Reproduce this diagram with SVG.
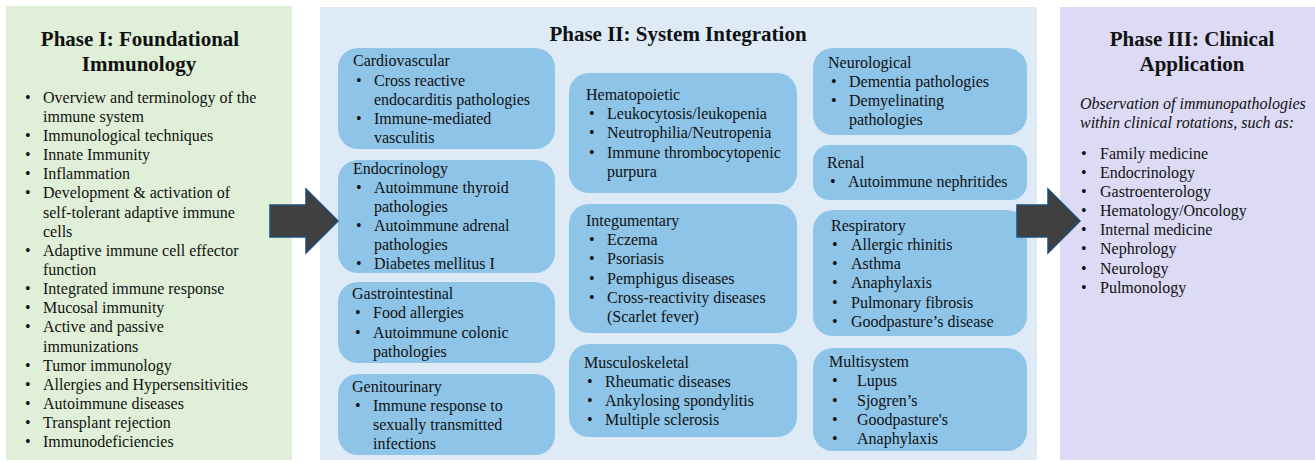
<svg xmlns="http://www.w3.org/2000/svg" width="1315" height="462" viewBox="0 0 1315 462">
<style>
text{font-family:"Liberation Serif","Times New Roman",serif;fill:#111;font-size:16px}
.t{font-weight:bold;font-size:21px;text-anchor:middle}
.i{font-style:italic}
.box{fill:#8ec4e8}
.arrow{fill:#404040;stroke:#1f4e79;stroke-width:1.5}
</style>
<rect x="6" y="6" width="286" height="454" fill="#e0efd8"/>
<rect x="320" y="7" width="717" height="453" fill="#deebf7"/>
<rect x="1060" y="7" width="255" height="453" fill="#dcdaf5"/>

<g id="phase1">
<text class="t" x="140" y="46">Phase I: Foundational</text>
<text class="t" x="139" y="71">Immunology</text>
<g>
<text x="25" y="103">•</text><text x="43" y="103">Overview and terminology of the</text>
<text x="43" y="122">immune system</text>
<text x="25" y="141">•</text><text x="43" y="141">Immunological techniques</text>
<text x="25" y="160">•</text><text x="43" y="160">Innate Immunity</text>
<text x="25" y="179">•</text><text x="43" y="179">Inflammation</text>
<text x="25" y="198">•</text><text x="43" y="198">Development &amp; activation of</text>
<text x="43" y="218">self-tolerant adaptive immune</text>
<text x="43" y="237">cells</text>
<text x="25" y="256">•</text><text x="43" y="256">Adaptive immune cell effector</text>
<text x="43" y="275">function</text>
<text x="25" y="294">•</text><text x="43" y="294">Integrated immune response</text>
<text x="25" y="313">•</text><text x="43" y="313">Mucosal immunity</text>
<text x="25" y="332">•</text><text x="43" y="332">Active and passive</text>
<text x="43" y="352">immunizations</text>
<text x="25" y="371">•</text><text x="43" y="371">Tumor immunology</text>
<text x="25" y="390">•</text><text x="43" y="390">Allergies and Hypersensitivities</text>
<text x="25" y="409">•</text><text x="43" y="409">Autoimmune diseases</text>
<text x="25" y="428">•</text><text x="43" y="428">Transplant rejection</text>
<text x="25" y="447">•</text><text x="43" y="447">Immunodeficiencies</text>
</g>
</g>

<g id="phase2">
<text class="t" x="678" y="41">Phase II: System Integration</text>
</g>

<g id="cardiovascular">
<rect class="box" x="338" y="48" width="217" height="101" rx="20"/>
<text x="353" y="66">Cardiovascular</text>
<text x="356" y="86">•</text><text x="374" y="86">Cross reactive</text>
<text x="374" y="105">endocarditis pathologies</text>
<text x="356" y="124">•</text><text x="374" y="124">Immune-mediated</text>
<text x="374" y="143">vasculitis</text>
</g>
<g id="endocrinology">
<rect class="box" x="338" y="160" width="217" height="113" rx="20"/>
<text x="353" y="174">Endocrinology</text>
<text x="356" y="193">•</text><text x="374" y="193">Autoimmune thyroid</text>
<text x="374" y="212">pathologies</text>
<text x="356" y="231">•</text><text x="374" y="231">Autoimmune adrenal</text>
<text x="374" y="250">pathologies</text>
<text x="356" y="269">•</text><text x="374" y="269">Diabetes mellitus I</text>
</g>
<g id="gastrointestinal">
<rect class="box" x="338" y="282" width="217" height="81" rx="20"/>
<text x="352" y="299">Gastrointestinal</text>
<text x="355" y="318">•</text><text x="373" y="318">Food allergies</text>
<text x="355" y="338">•</text><text x="373" y="338">Autoimmune colonic</text>
<text x="373" y="357">pathologies</text>
</g>
<g id="genitourinary">
<rect class="box" x="338" y="374" width="217" height="81" rx="20"/>
<text x="352" y="392">Genitourinary</text>
<text x="355" y="411">•</text><text x="373" y="411">Immune response to</text>
<text x="373" y="430">sexually transmitted</text>
<text x="373" y="449">infections</text>
</g>

<g id="hematopoietic">
<rect class="box" x="569" y="73" width="228" height="120" rx="20"/>
<text x="586" y="100">Hematopoietic</text>
<text x="589" y="119">•</text><text x="607" y="119">Leukocytosis/leukopenia</text>
<text x="589" y="138">•</text><text x="607" y="138">Neutrophilia/Neutropenia</text>
<text x="589" y="158">•</text><text x="607" y="158">Immune thrombocytopenic</text>
<text x="607" y="177">purpura</text>
</g>
<g id="integumentary">
<rect class="box" x="569" y="204" width="228" height="129" rx="20"/>
<text x="586" y="226">Integumentary</text>
<text x="589" y="245">•</text><text x="607" y="245">Eczema</text>
<text x="589" y="264">•</text><text x="607" y="264">Psoriasis</text>
<text x="589" y="284">•</text><text x="607" y="284">Pemphigus diseases</text>
<text x="589" y="303">•</text><text x="607" y="303">Cross-reactivity diseases</text>
<text x="607" y="322">(Scarlet fever)</text>
</g>
<g id="musculoskeletal">
<rect class="box" x="569" y="344" width="228" height="93" rx="20"/>
<text x="584" y="368">Musculoskeletal</text>
<text x="587" y="387">•</text><text x="605" y="387">Rheumatic diseases</text>
<text x="587" y="406">•</text><text x="605" y="406">Ankylosing spondylitis</text>
<text x="587" y="425">•</text><text x="605" y="425">Multiple sclerosis</text>
</g>

<g id="neurological">
<rect class="box" x="813" y="48" width="214" height="87" rx="20"/>
<text x="828" y="68">Neurological</text>
<text x="831" y="87">•</text><text x="849" y="87">Dementia pathologies</text>
<text x="831" y="106">•</text><text x="849" y="106">Demyelinating</text>
<text x="849" y="125">pathologies</text>
</g>
<g id="renal">
<rect class="box" x="813" y="145" width="214" height="55" rx="16"/>
<text x="827" y="168">Renal</text>
<text x="830" y="187">•</text><text x="848" y="187">Autoimmune nephritides</text>
</g>
<g id="respiratory">
<rect class="box" x="813" y="210" width="214" height="126" rx="20"/>
<text x="831" y="231">Respiratory</text>
<text x="832" y="250">•</text><text x="851" y="250">Allergic rhinitis</text>
<text x="832" y="269">•</text><text x="851" y="269">Asthma</text>
<text x="832" y="288">•</text><text x="851" y="288">Anaphylaxis</text>
<text x="832" y="308">•</text><text x="851" y="308">Pulmonary fibrosis</text>
<text x="832" y="327">•</text><text x="851" y="327">Goodpasture’s disease</text>
</g>
<g id="multisystem">
<rect class="box" x="813" y="348" width="214" height="103" rx="20"/>
<text x="829" y="367">Multisystem</text>
<text x="832" y="386">•</text><text x="857" y="386">Lupus</text>
<text x="832" y="406">•</text><text x="857" y="406">Sjogren’s</text>
<text x="832" y="425">•</text><text x="857" y="425">Goodpasture's</text>
<text x="832" y="444">•</text><text x="857" y="444">Anaphylaxis</text>
</g>

<g id="phase3">
<text class="t" x="1192" y="46">Phase III: Clinical</text>
<text class="t" x="1192" y="71">Application</text>
<text class="i" x="1080" y="109">Observation of immunopathologies</text>
<text class="i" x="1080" y="128">within clinical rotations, such as:</text>
<text x="1081" y="159">•</text><text x="1100" y="159">Family medicine</text>
<text x="1081" y="178">•</text><text x="1100" y="178">Endocrinology</text>
<text x="1081" y="197">•</text><text x="1100" y="197">Gastroenterology</text>
<text x="1081" y="216">•</text><text x="1100" y="216">Hematology/Oncology</text>
<text x="1081" y="235">•</text><text x="1100" y="235">Internal medicine</text>
<text x="1081" y="254">•</text><text x="1100" y="254">Nephrology</text>
<text x="1081" y="274">•</text><text x="1100" y="274">Neurology</text>
<text x="1081" y="293">•</text><text x="1100" y="293">Pulmonology</text>
</g>

<g id="connectors">
<polygon class="arrow" points="270,205 306,205 306,189 338,221 306,253 306,237 270,237"/>
<polygon class="arrow" points="1017,205 1048,205 1048,189 1080,221 1048,253 1048,237 1017,237"/>
</g>
</svg>
